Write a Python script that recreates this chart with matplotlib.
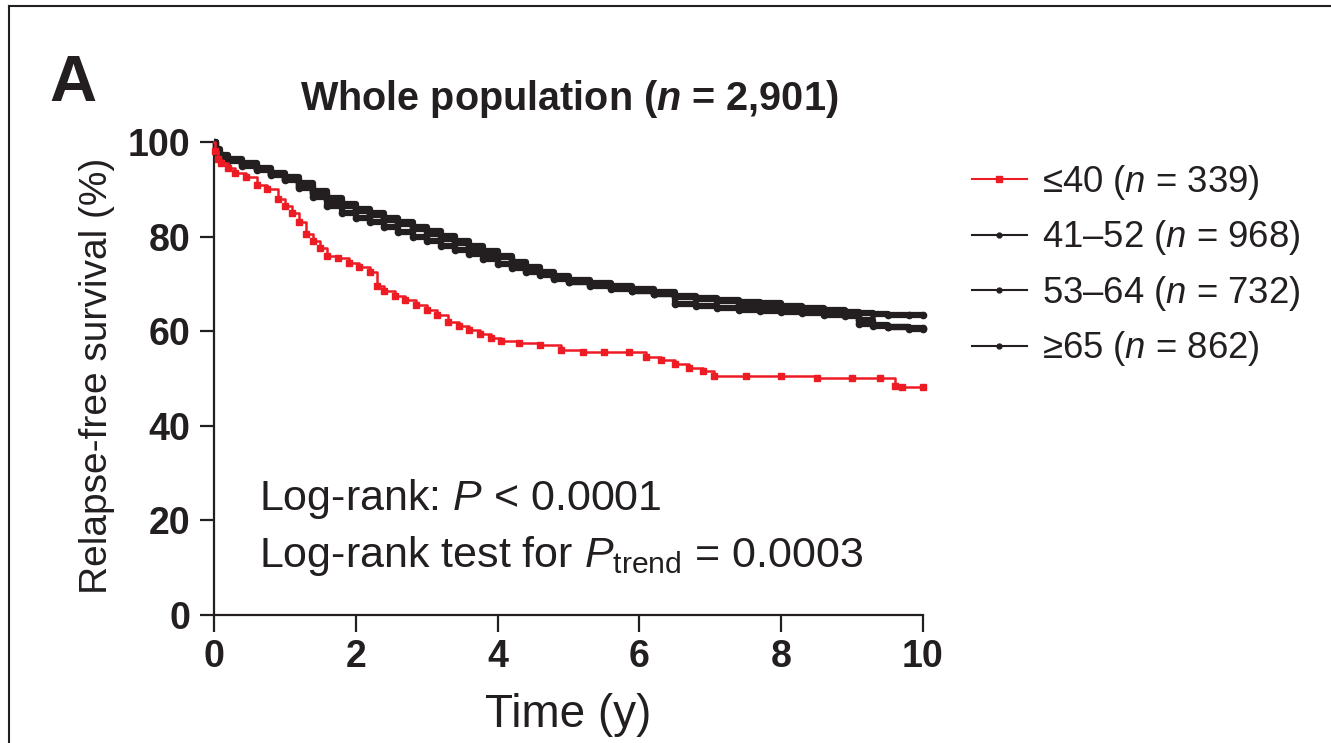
import matplotlib
matplotlib.use("Agg")
import matplotlib.pyplot as plt
from matplotlib.lines import Line2D

plt.rcParams['font.family'] = ['Liberation Sans', 'DejaVu Sans']
plt.rcParams['mathtext.fontset'] = 'custom'
plt.rcParams['mathtext.rm'] = 'Liberation Sans'
plt.rcParams['mathtext.it'] = 'Liberation Sans:italic'
plt.rcParams['mathtext.bf'] = 'Liberation Sans:bold'
plt.rcParams['mathtext.bfit'] = 'Liberation Sans:bold:italic'

# ---------------- data ----------------
red_t = [0, 0.02, 0.05, 0.1, 0.2, 0.3, 0.45, 0.6, 0.75, 0.9, 1.0, 1.1, 1.2, 1.3, 1.4,
         1.5, 1.6, 1.75, 1.9, 2.05, 2.2, 2.3, 2.4, 2.55, 2.7, 2.85, 3.0, 3.15, 3.3,
         3.45, 3.6, 3.75, 3.9, 4.05, 4.3, 4.6, 4.9, 5.2, 5.5, 5.85, 6.1, 6.3, 6.5,
         6.7, 6.9, 7.05, 7.5, 8.0, 8.5, 9.0, 9.4, 9.6, 9.7, 10.0]
red_s = [100, 98, 96.5, 95.5, 94.5, 93.5, 92.5, 91, 90, 88, 86.5, 85, 83, 80.5, 79,
         77.5, 76, 75.5, 74.5, 73.5, 72.5, 69.5, 68.5, 67.5, 66.5, 65.5, 64.5, 63.5, 62,
         61, 60.3, 59.5, 58.5, 58, 57.5, 57, 56, 55.7, 55.7, 55.5, 54.5, 54, 53,
         52.3, 51.5, 50.6, 50.5, 50.5, 50.2, 50.2, 50.2, 48.5, 48.3, 48.3]

blk_t = [0, 0.03, 0.08, 0.2, 0.4, 0.6, 0.8, 1.0, 1.2, 1.4, 1.6, 1.8, 2.0, 2.2, 2.4,
         2.6, 2.8, 3.0, 3.2, 3.4, 3.6, 3.8, 4.0, 4.2, 4.4, 4.6, 4.8, 5.0, 5.3, 5.6,
         5.9, 6.2, 6.5, 6.8, 7.1, 7.4, 7.7, 8.0, 8.3, 8.6, 8.9, 9.1, 9.3, 9.5, 9.8, 10.0]
s_41_52 = [100, 97.5, 96.8, 96, 95, 94, 93, 92, 90.8, 89.3, 87.8, 86.5, 85.4, 84.5, 83.6,
           82.7, 81.6, 80.5, 79.5, 78.6, 77.6, 76.6, 75.6, 74.3, 73.2, 72.2, 71.3, 70.5, 69.8, 69.2,
           68.5, 67.8, 65.8, 65.3, 65, 64.5, 64.2, 64, 63.8, 63.5, 63.2, 61.5, 61, 60.8, 60.6, 60.6]
s_53_64 = [100, 98, 97, 96.3, 95.5, 94.5, 93.5, 92.5, 91.3, 89.7, 88.2, 86.9, 85.8, 84.9, 84,
           83.1, 82.1, 81.1, 80.1, 79.1, 78.1, 77, 75.9, 74.6, 73.5, 72.5, 71.6, 70.8, 70.1, 69.5,
           68.9, 68.3, 67.5, 67, 66.6, 66.2, 65.9, 65.4, 64.9, 64.4, 64, 63.8, 63.6, 63.5, 63.5, 63.5]
s_65 = [100, 98.5, 97.3, 96.5, 95.3, 94.2, 93.2, 92.2, 90.3, 88.3, 86.5, 85, 84, 83, 82,
        81, 80, 79, 78, 77.1, 76.3, 75.3, 74.2, 73.4, 72.6, 71.8, 71, 70.3, 69.6, 69,
        68.5, 67.9, 67.3, 66.8, 66.3, 65.8, 65.3, 64.8, 64.3, 63.9, 63.4, 62.3, 61.3, 60.8, 60.5, 60.5]

series_labels = [r'≤40 ($n$ = 339)', r'41–52 ($n$ = 968)', r'53–64 ($n$ = 732)', r'≥65 ($n$ = 862)']
xticks = [0, 2, 4, 6, 8, 10]
yticks = [0, 20, 40, 60, 80, 100]

RED = '#ed1c24'
BLK = '#231f20'

W, H = 1331, 743
fig = plt.figure(figsize=(W / 100, H / 100), dpi=100)
ax = fig.add_axes([214 / W, 1 - 615 / H, (923 - 214) / W, (615 - 142) / H])

for s in (s_41_52, s_53_64, s_65):
    ax.plot(blk_t, s, drawstyle='steps-post', color=BLK, lw=4.5, clip_on=False,
            solid_capstyle='butt', zorder=3)
    ax.plot(blk_t[1:], s[1:], ls='none', marker='o', ms=4.5, color=BLK, clip_on=False, zorder=3)

ax.plot(red_t, red_s, drawstyle='steps-post', color=RED, lw=1.8, clip_on=False, zorder=4)
ax.plot(red_t[1:], red_s[1:], ls='none', marker='s', ms=5, color=RED, clip_on=False, zorder=4)

ax.set_xlim(0, 10)
ax.set_ylim(0, 100)
ax.set_xticks(xticks)
ax.set_yticks(yticks)
for sp in ('top', 'right'):
    ax.spines[sp].set_visible(False)
for sp in ('left', 'bottom'):
    ax.spines[sp].set_linewidth(1.6)
    ax.spines[sp].set_color(BLK)
ax.tick_params(axis='y', length=10, width=1.6, pad=7, labelsize=27, colors=BLK)
ax.tick_params(axis='x', length=12, width=1.6, pad=5, labelsize=27, colors=BLK)
for lab in ax.get_xticklabels() + ax.get_yticklabels():
    lab.set_fontweight('bold')

def fx(x):
    return x / W

def fy(y):
    return 1 - y / H

fig.text(fx(97), fy(376), 'Relapse-free survival (%)', rotation=90, ha='center', va='center',
         fontsize=28, color=BLK)
fig.text(fx(568), fy(727), 'Time (y)', ha='center', va='baseline', fontsize=33, color=BLK)
fig.text(fx(569), fy(110), r'Whole population ($\mathbfit{n}$ = 2,901)', ha='center', va='baseline',
         fontsize=28.5, fontweight='bold', color=BLK)
fig.text(fx(49), fy(101), 'A', ha='left', va='baseline', fontsize=47, fontweight='bold', color=BLK)

fig.text(fx(259), fy(510), r'Log-rank: $P$ < 0.0001', ha='left', va='baseline', fontsize=31, color=BLK)
fig.text(fx(259), fy(567), r'Log-rank test for $P_{\mathrm{trend}}$ = 0.0003', ha='left', va='baseline',
         fontsize=31, color=BLK)

handles = [Line2D([], [], color=RED, lw=1.5, marker='s', ms=4),
           Line2D([], [], color=BLK, lw=1.5, marker='o', ms=3.5),
           Line2D([], [], color=BLK, lw=1.5, marker='o', ms=3.5),
           Line2D([], [], color=BLK, lw=1.5, marker='o', ms=3.5)]
fig.legend(handles, series_labels, loc='upper left', bbox_to_anchor=(fx(972), fy(163)),
           frameon=False, fontsize=26.3, handlelength=1.5, handletextpad=0.42,
           labelspacing=0.45, borderaxespad=0, borderpad=0, labelcolor=BLK)

# figure panel border (left and top)
fig.add_artist(Line2D([fx(9), fx(9)], [0, fy(6)], transform=fig.transFigure, color=BLK, lw=1.5))
fig.add_artist(Line2D([fx(9), 1], [fy(6), fy(6)], transform=fig.transFigure, color=BLK, lw=1.5))

fig.savefig('out.png', dpi=100)
